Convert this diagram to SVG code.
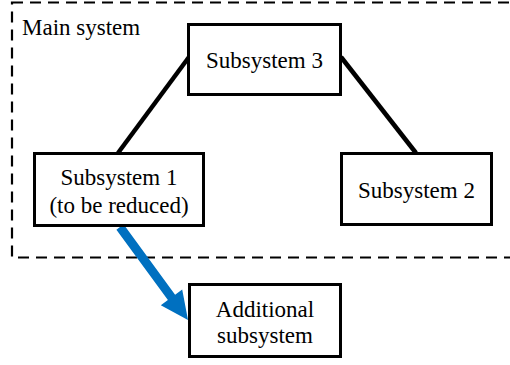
<svg xmlns="http://www.w3.org/2000/svg" width="510" height="365" viewBox="0 0 510 365">
<style>
.box{fill:#fff;stroke:#000;stroke-width:3}
.edge{stroke:#000;stroke-width:4.5;fill:none}
text{font-family:'Liberation Serif','Times New Roman',serif;font-size:23px;fill:#000;text-anchor:middle}
</style>
<rect width="510" height="365" fill="#fff"/>
<g id="main-system">
<rect x="12" y="2.5" width="520" height="255" fill="none" stroke="#000" stroke-width="2.2" stroke-dasharray="11,7"/>
<text x="22" y="35" style="text-anchor:start">Main system</text>
</g>
<g id="connectors">
<line class="edge" x1="189" y1="57" x2="118" y2="153"/>
<line class="edge" x1="341" y1="57" x2="416" y2="153"/>
<polygon fill="#0070C0" points="123.6,224.3 175.1,294.7 182.2,289.5 188,320 160.8,305.3 167.9,300.1 116.4,229.7"/>
</g>
<g id="subsystem3">
<rect class="box" x="188.5" y="24.5" width="152" height="70"/>
<text x="264.5" y="68">Subsystem 3</text>
</g>
<g id="subsystem1">
<rect class="box" x="34.5" y="153.5" width="169" height="72"/>
<text x="119" y="185">Subsystem 1</text>
<text x="119" y="213">(to be reduced)</text>
</g>
<g id="subsystem2">
<rect class="box" x="341.5" y="153.5" width="150" height="71"/>
<text x="416.5" y="198">Subsystem 2</text>
</g>
<g id="additional">
<rect class="box" x="189.5" y="284.5" width="151" height="72"/>
<text x="265" y="317">Additional</text>
<text x="265" y="343">subsystem</text>
</g>
</svg>
